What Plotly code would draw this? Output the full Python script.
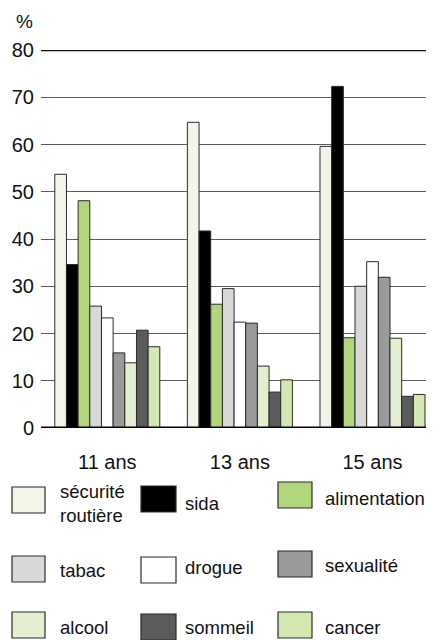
import plotly.graph_objects as go

ages = ["11 ans", "13 ans", "15 ans"]
themes = ["sécurité routière", "sida", "alimentation", "tabac", "drogue",
          "sexualité", "alcool", "sommeil", "cancer"]
legend_labels = ["sécurité<br>routière", "sida", "alimentation", "tabac", "drogue",
                 "sexualité", "alcool", "sommeil", "cancer"]
securite = [53.7, 64.7, 59.6]
sida = [34.6, 41.7, 72.3]
alimentation = [48.1, 26.2, 19.1]
tabac = [25.8, 29.5, 30.0]
drogue = [23.3, 22.4, 35.2]
sexualite = [15.9, 22.2, 31.9]
alcool = [13.8, 13.1, 19.0]
sommeil = [20.7, 7.6, 6.7]
cancer = [17.2, 10.2, 7.1]
series = [securite, sida, alimentation, tabac, drogue, sexualite, alcool, sommeil, cancer]
colors = ["#f1f4e6", "#000000", "#b1d77c", "#d8d8d8", "#ffffff",
          "#9a9a9a", "#e4efd1", "#5b5b5b", "#d3e7b0"]
y_ticks = [0, 10, 20, 30, 40, 50, 60, 70, 80]

OFF = 8  # page body margin
W, H = 434, 640
ML, MR, MT = 41 - OFF, 0, 50 - OFF
PH = 378
MB = H - MT - PH
PW = W - ML - MR

fig = go.Figure()
for name, vals, col in zip(themes, series, colors):
    fig.add_trace(go.Bar(x=ages, y=vals, name=name, marker_color=col,
                         marker_line_color="#2a2a2a", marker_line_width=1,
                         showlegend=False))

def px(x):
    return (x - OFF - ML) / PW

def py(y):
    return (MT + PH - (y - OFF)) / PH

# custom legend (3 columns x 3 rows), screen pixel positions
col_x = [12, 141, 278]
col_w = [33, 35, 34]
text_x = [60, 185, 325]
sw_top = [[487, 486, 482], [556, 557, 551], [612, 614, 612]]
txt_y = [[503, 503, 498], [570, 567, 565], [627, 627, 627]]
shapes = []
annotations = []
for i, (lab, col) in enumerate(zip(legend_labels, colors)):
    r, c = divmod(i, 3)
    x0 = col_x[c]
    y0 = sw_top[r][c]
    shapes.append(dict(type="rect", xref="paper", yref="paper",
                       x0=px(x0), x1=px(x0 + col_w[c]), y0=py(y0), y1=py(y0 + 26),
                       fillcolor=col, line=dict(color="#2a2a2a", width=1.2)))
    annotations.append(dict(text=lab, xref="paper", yref="paper",
                            x=px(text_x[c] - 1), y=py(txt_y[r][c]), xanchor="left",
                            yanchor="middle", showarrow=False, align="left",
                            borderpad=0,
                            font=dict(size=18.5, color="#111")))

# top 80 line and baseline
shapes.append(dict(type="line", xref="paper", yref="y", x0=0, x1=1, y0=80, y1=80,
                   line=dict(color="#111", width=2.5)))
shapes.append(dict(type="line", xref="paper", yref="y", x0=0, x1=1, y0=0, y1=0,
                   line=dict(color="#000", width=3)))

annotations.append(dict(text="%", xref="paper", yref="paper", x=px(15), y=py(22),
                        xanchor="left", yanchor="middle", showarrow=False,
                        borderpad=0, font=dict(size=19, color="#111")))

fig.update_layout(
    width=W, height=H,
    margin=dict(l=ML, r=MR, t=MT, b=MB, pad=0, autoexpand=False),
    paper_bgcolor="white", plot_bgcolor="white",
    barmode="group", bargap=0.208, bargroupgap=0,
    font=dict(family="Liberation Sans, Arial, sans-serif", size=20, color="#111"),
    xaxis=dict(range=[-0.5, -0.5 + PW / 132.6], showgrid=False, showline=False,
               zeroline=False, ticks="", tickfont=dict(size=20),
               ticklabelstandoff=20, automargin=False),
    yaxis=dict(range=[0, 80], tickvals=y_ticks, showgrid=True, gridcolor="#5a5a5a",
               gridwidth=1, zeroline=False, showline=False, ticks="",
               tickfont=dict(size=20), ticklabelstandoff=6, automargin=False),
    shapes=shapes, annotations=annotations,
)

fig.write_html("out.html")
